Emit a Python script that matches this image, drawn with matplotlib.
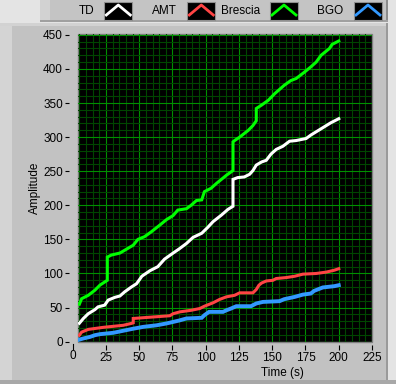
import matplotlib
matplotlib.use("Agg")
import matplotlib.pyplot as plt
from matplotlib.patches import Rectangle
from matplotlib.lines import Line2D
from matplotlib.ticker import MultipleLocator

plt.rcParams['font.family'] = ['Liberation Sans', 'DejaVu Sans']

# series (time in s, amplitude)
td_t = [5, 8, 11.7, 16.7, 19, 24, 26.7, 31.7, 35.5, 39, 44, 48, 52, 58, 64, 69, 75.5,
        80, 85.5, 90.5, 97, 101.7, 105.5, 111.7, 116.7, 120.5, 120.5, 124, 129, 133,
        135.5, 138, 142, 145.5, 149, 153, 158, 163, 168, 175.5, 179, 184, 189, 194, 200]
td_y = [27, 34, 41, 47, 51, 53.5, 61, 65, 67, 73, 80, 85, 96, 104, 110, 121, 130,
        136, 144, 153, 159, 168, 176, 185.5, 194, 198.6, 238, 240.6, 241.6, 245.5,
        251, 259, 263.6, 266, 275, 282, 286.6, 294, 295, 298, 303, 309, 315, 321, 327]

amt_t = [5, 6.7, 11.7, 23, 28, 38, 44, 45.5, 45.5, 55.5, 73, 75.5, 80.5, 89, 95.5,
         99, 105.5, 110.5, 115.5, 121.7, 125.5, 135.5, 138, 140, 142, 145.5, 150.5,
         153, 160.5, 167, 173, 183, 190.5, 196.7, 200]
amt_y = [9.5, 14, 18, 21, 22, 24, 26.7, 27.6, 34, 35.5, 38, 41, 43.7, 46, 48.6,
         52, 57, 62, 65.7, 68, 71.6, 71.6, 76.5, 82.8, 86, 89, 90, 92.6, 94, 96,
         99, 100, 102, 104.8, 107]

brescia_t = [5, 6.7, 11.7, 16.7, 20.5, 26, 26, 29, 35.5, 39, 45.5, 49, 54, 59, 65.5,
             70.5, 75.5, 79, 85.5, 89, 93, 97, 99, 104, 108, 115.5, 120.5, 120.5,
             121.7, 125.5, 132, 135.5, 138, 138, 142, 147, 152, 159, 164, 168, 174,
             179, 183, 186.7, 193, 195, 200]
brescia_y = [55, 63, 68, 75.5, 83, 90, 124, 127, 130, 134, 141.5, 150, 154, 161, 171,
             179, 185, 193, 195, 200, 207, 208, 220, 225, 232, 244, 251, 293,
             295, 300, 310, 317, 324, 342, 347, 354, 364, 376, 383, 386, 395,
             403, 410, 420, 430, 436, 441]

bgo_t = [5, 8, 13, 16.7, 20.5, 30.5, 38, 45.5, 53, 63, 70.5, 80, 85.5, 97, 99,
         102.5, 113, 115.5, 119, 123, 134, 138, 143, 155.5, 159, 167, 173, 179,
         181.5, 188, 196.7, 200]
bgo_y = [3, 4.7, 7, 9.5, 11, 13, 16, 19, 21.7, 24, 26.7, 31, 34, 35, 38.8,
         43.7, 43.7, 46, 48.6, 52, 52, 56, 58.3, 59.4, 62.3, 65.7, 69, 70.6,
         74.5, 79.5, 81.4, 82.8]

names = ['TD', 'AMT', 'Brescia', 'BGO']
colors = ['#ffffff', '#ff4444', '#00ff00', '#3399ff']
x_ticks = [0, 25, 50, 75, 100, 125, 150, 175, 200, 225]
y_ticks = [0, 50, 100, 150, 200, 250, 300, 350, 400, 450]

W, H = 396, 384


def fx(px):
    return px / W


def fy(py):
    return 1 - py / H


fig = plt.figure(figsize=(W / 100, H / 100), dpi=100, facecolor='#e4e4e4')

# LabVIEW style panels
def panel(x0, y0, x1, y1, color):
    fig.patches.append(Rectangle((fx(x0), fy(y1)), fx(x1) - fx(x0), fy(y0) - fy(y1),
                                 transform=fig.transFigure, facecolor=color,
                                 edgecolor='none', zorder=-10))

panel(0, 23, 386, 380, '#c2c2c2')
panel(0, 23, 12, 380, '#d4d4d4')
panel(0, 23, 386, 26, '#d2d2d2')
panel(0, 380, 396, 384, '#a8a8a8')
panel(386, 23, 388, 380, '#9a9a9a')
panel(40, 0, 388, 22, '#c4c4c4')
panel(40, 0, 50, 22, '#d2d2d2')
panel(386, 0, 388, 22, '#8c8c8c')
panel(40, 20, 388, 22, '#a0a0a0')

ax = fig.add_axes([fx(78.3), fy(342), fx(372) - fx(78.3), fy(33.5) - fy(342)])
ax.set_facecolor('black')
ax.plot(td_t, td_y, color=colors[0], lw=2.2, solid_joinstyle='miter')
ax.plot(amt_t, amt_y, color=colors[1], lw=2.2, solid_joinstyle='miter')
ax.plot(brescia_t, brescia_y, color=colors[2], lw=2.2, solid_joinstyle='miter')
ax.plot(bgo_t, bgo_y, color=colors[3], lw=2.8, solid_joinstyle='miter')

ax.set_xlim(4.2, 225)
ax.set_ylim(-0.5, 452)
ax.set_xticks(x_ticks[1:])
ax.set_yticks(y_ticks)
ax.xaxis.set_minor_locator(MultipleLocator(5))
ax.yaxis.set_minor_locator(MultipleLocator(10))
ax.grid(which='major', color='#009000', lw=0.8)
ax.grid(which='minor', color='#004600', lw=0.8)
ax.set_axisbelow(True)
ax.tick_params(which='minor', length=0)
ax.tick_params(axis='y', which='major', length=3, width=0.8, pad=1, labelsize=8.5)
ax.tick_params(axis='x', which='major', length=3.5, width=0.8, pad=2, labelsize=8.5)
for s in ['top', 'right']:
    ax.spines[s].set_visible(False)
ax.spines['left'].set_position(('outward', 7))
ax.spines['bottom'].set_position(('outward', 2))
ax.spines['left'].set_visible(False)
ax.spines['bottom'].set_visible(False)
ax.patch.set_edgecolor('#808080')
ax.patch.set_linewidth(1)

# the 0 tick sits left of the plotting area
fig.lines.append(Line2D([fx(72.7), fx(72.7)], [fy(344), fy(348.5)], color='black',
                        lw=0.8, transform=fig.transFigure))
fig.text(fx(72.7), fy(350), '0', ha='center', va='top', fontsize=8.5)

fig.text(fx(282.5), fy(373), 'Time (s)', ha='center', va='center', fontsize=8.5)
fig.text(fx(35), fy(188), 'Amplitude', ha='center', va='center', fontsize=8.5, rotation=90)

# legend
text_x = [86.7, 164, 240.5, 330]
box_x = [104.3, 187.3, 270, 354]
for name, c, tx, bx in zip(names, colors, text_x, box_x):
    fig.text(fx(tx), fy(11), name, ha='center', va='center', fontsize=8.5)
    fig.patches.append(Rectangle((fx(bx), fy(20)), fx(27.5), fy(2.5) - fy(20),
                                 transform=fig.transFigure, facecolor='black',
                                 edgecolor='#909090', lw=0.8, zorder=2))
    fig.lines.append(Line2D([fx(bx + 2), fx(bx + 14), fx(bx + 26)],
                            [fy(15), fy(5), fy(15)], color=c, lw=2.0,
                            transform=fig.transFigure, zorder=3))

fig.savefig('out.png', dpi=100, facecolor=fig.get_facecolor())
